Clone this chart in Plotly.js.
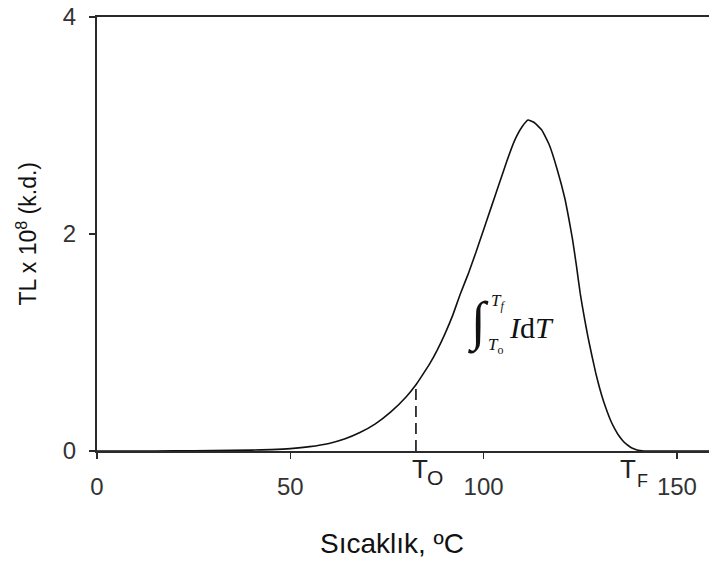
<!DOCTYPE html>
<html>
<head>
<meta charset="utf-8">
<script src="https://cdn.plot.ly/plotly-3.0.1.min.js"></script>
<style>html,body{margin:0;padding:0;background:#fff;}#chart{width:709px;height:562px;}</style>
</head>
<body>
<div id="chart"></div>
<script>
// Temperature (°C) and TL intensity (x 10^8, arbitrary units)
const temperature = [0, 10, 20, 30, 40, 45, 50, 55, 60, 64, 68, 72, 76, 80, 82.5, 84, 86, 88, 90, 92, 94, 96, 98, 100, 102, 104, 106, 108, 110, 111.5, 113, 115, 117, 119, 121, 122, 123, 124, 125, 126, 127, 128, 129, 130, 131, 132, 133, 134, 135, 136, 137, 138, 139, 140, 141, 142, 150, 160];
const tlIntensity = [0, 0, 0.001, 0.003, 0.008, 0.013, 0.022, 0.04, 0.07, 0.11, 0.17, 0.25, 0.36, 0.50, 0.61, 0.69, 0.80, 0.93, 1.08, 1.25, 1.45, 1.63, 1.83, 2.04, 2.25, 2.46, 2.67, 2.86, 2.99, 3.05, 3.03, 2.96, 2.82, 2.60, 2.33, 2.15, 1.95, 1.71, 1.45, 1.24, 1.05, 0.88, 0.72, 0.58, 0.46, 0.36, 0.27, 0.20, 0.14, 0.095, 0.06, 0.035, 0.018, 0.007, 0.002, 0, 0, 0];
const xTickVals = [0, 50, 100, 150];
const yTickVals = [0, 2, 4];
const tStart = 82.5;   // T_O
const tStartTL = 0.61;
const tFinal = 137.4;  // T_F

const axisColor = '#2a2a2a';
const font = 'Liberation Sans, Arial, sans-serif';
const serif = 'Liberation Serif, Times New Roman, serif';

const traces = [
  {x: temperature, y: tlIntensity, type: 'scatter', mode: 'lines', line: {color: '#111', width: 1.6, shape: 'spline', smoothing: 0.4}, hoverinfo: 'skip'},
  {x: [tStart, tStart], y: [0, tStartTL], type: 'scatter', mode: 'lines', line: {color: '#111', width: 1.6, dash: '11px,6px'}, hoverinfo: 'skip'}
];

const layout = {
  width: 709, height: 562,
  margin: {l: 97, r: 0, t: 17, b: 111},
  paper_bgcolor: '#fff', plot_bgcolor: '#fff',
  showlegend: false,
  xaxis: {
    range: [0, 158.3], tickvals: xTickVals, ticktext: xTickVals.map(String),
    showgrid: false, zeroline: false, showline: true, mirror: true,
    linecolor: axisColor, linewidth: 2, ticks: 'outside', ticklen: 6, tickwidth: 1.5, tickcolor: axisColor,
    tickfont: {family: font, size: 24, color: '#333'}, ticklabelstandoff: 7
  },
  yaxis: {
    range: [0, 4], tickvals: yTickVals, ticktext: yTickVals.map(String),
    showgrid: false, zeroline: false, showline: true, mirror: false,
    linecolor: axisColor, linewidth: 2, ticks: 'outside', ticklen: 6, tickwidth: 1.5, tickcolor: axisColor,
    tickfont: {family: font, size: 24, color: '#333'}, ticklabelstandoff: 8
  },
  annotations: [
    // axis titles
    {x: 0.482, y: -0.214, xref: 'paper', yref: 'paper', xanchor: 'center', yanchor: 'middle', text: 'Sıcaklık, ºC', showarrow: false, font: {family: font, size: 28, color: '#111'}},
    {x: -0.115, y: 0.5, xref: 'paper', yref: 'paper', xanchor: 'center', yanchor: 'middle', textangle: -90, text: 'TL x 10<sup>8</sup> (k.d.)', showarrow: false, font: {family: font, size: 23, color: '#111'}},
    // integral expression
    {x: 98.8, y: 1.18, xref: 'x', yref: 'y', text: '∫', showarrow: false, font: {family: serif, size: 54, color: '#111'}},
    {x: 103.6, y: 1.37, xref: 'x', yref: 'y', text: '<i>T</i><sub><i>f</i></sub>', showarrow: false, font: {family: serif, size: 17, color: '#111'}},
    {x: 103.0, y: 0.97, xref: 'x', yref: 'y', text: '<i>T</i><sub>o</sub>', showarrow: false, font: {family: serif, size: 17, color: '#111'}},
    {x: 112.4, y: 1.14, xref: 'x', yref: 'y', text: '<i>I</i>d<i>T</i>', showarrow: false, font: {family: serif, size: 30, color: '#111'}},
    // T_O and T_F markers
    {x: 83.5, y: -0.0415, xref: 'x', yref: 'paper', yanchor: 'middle', text: 'T', showarrow: false, font: {family: font, size: 26, color: '#222'}},
    {x: 87.4, y: -0.06, xref: 'x', yref: 'paper', yanchor: 'middle', text: 'O', showarrow: false, font: {family: font, size: 21, color: '#222'}},
    {x: tFinal, y: -0.0415, xref: 'x', yref: 'paper', yanchor: 'middle', text: 'T', showarrow: false, font: {family: font, size: 26, color: '#222'}},
    {x: 141.0, y: -0.069, xref: 'x', yref: 'paper', yanchor: 'middle', text: 'F', showarrow: false, font: {family: font, size: 18, color: '#222'}}
  ]
};

Plotly.newPlot('chart', traces, layout, {staticPlot: true, displayModeBar: false});
</script>
</body>
</html>
